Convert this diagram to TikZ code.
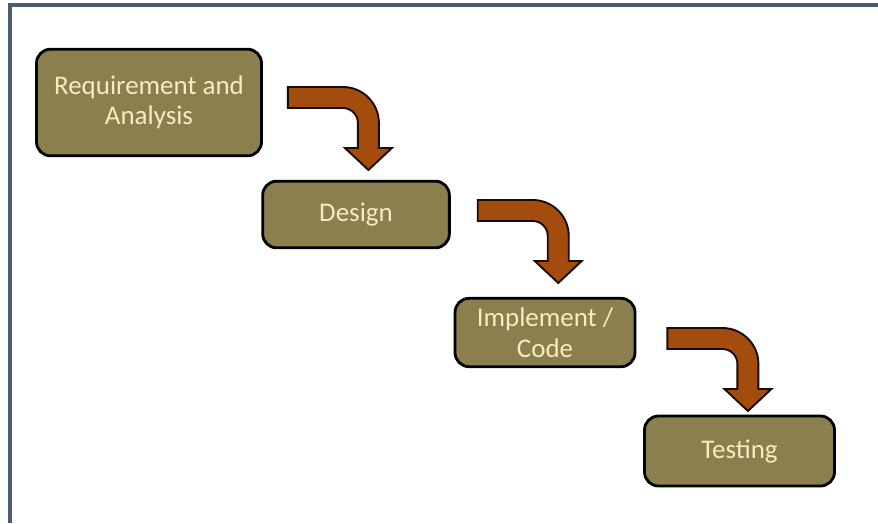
\documentclass[tikz,border=0pt]{standalone}
\usepackage{fontspec}
\setmainfont{Carlito}
\usetikzlibrary{calc}
\definecolor{BoxOlive}{RGB}{139,127,78}
\definecolor{BoxText}{RGB}{246,236,190}
\definecolor{ArrowRust}{RGB}{163,76,14}
\definecolor{FrameSlate}{RGB}{78,92,112}
\begin{document}
\begin{tikzpicture}[x=0.03cm, y=-0.03cm,
            phase/.style={rectangle, draw=black, fill=BoxOlive, line width=2.4pt,
                          rounded corners=0.42cm, text=BoxText, align=center,
                          font=\fontsize{23}{26}\selectfont},
            flow/.style={draw=black!85!ArrowRust, fill=ArrowRust, line width=1.6pt}
          ]
          % Page and frame
          \useasboundingbox (0,0) rectangle (878,523);
          \fill[white] (0,0) rectangle (878,523);
          \draw[FrameSlate, line width=2.6pt] (10,523) -- (10,5) -- (878,5);
          % Phases
          \node[phase, minimum width=6.75cm, minimum height=3.2cm] (req) at (149,102.5) {Requirement and\\Analysis};
          \node[phase, minimum width=5.6cm, minimum height=2cm] (des) at (356,214.5) {Design};
          \node[phase, minimum width=5.4cm, minimum height=2.05cm] (imp) at (545,332.5) {Implement /\\Code};
          \node[phase, minimum width=5.7cm, minimum height=2.1cm] (tst) at (739.5,451) {Testing};
          % Bent arrows between phases
          \coordinate (s1) at ($(req.east)+(25,-15.5)$);
          \coordinate (s2) at ($(des.east)+(27,-14.5)$);
          \coordinate (s3) at ($(imp.east)+(31,-4.5)$);
          \foreach \i in {1,2,3} {
            \begin{scope}[shift={(s\i)}]
              \draw[flow] (0,0) -- (55,0) .. controls (74.9,0) and (91,16.1) .. (91,36)
                -- (91,61) -- (104,61) -- (80.5,83) -- (57,61) -- (70,61) -- (70,36)
                .. controls (70,27.7) and (63.3,21) .. (55,21) -- (0,21) -- cycle;
            \end{scope}
          }
        \end{tikzpicture}
\end{document}
